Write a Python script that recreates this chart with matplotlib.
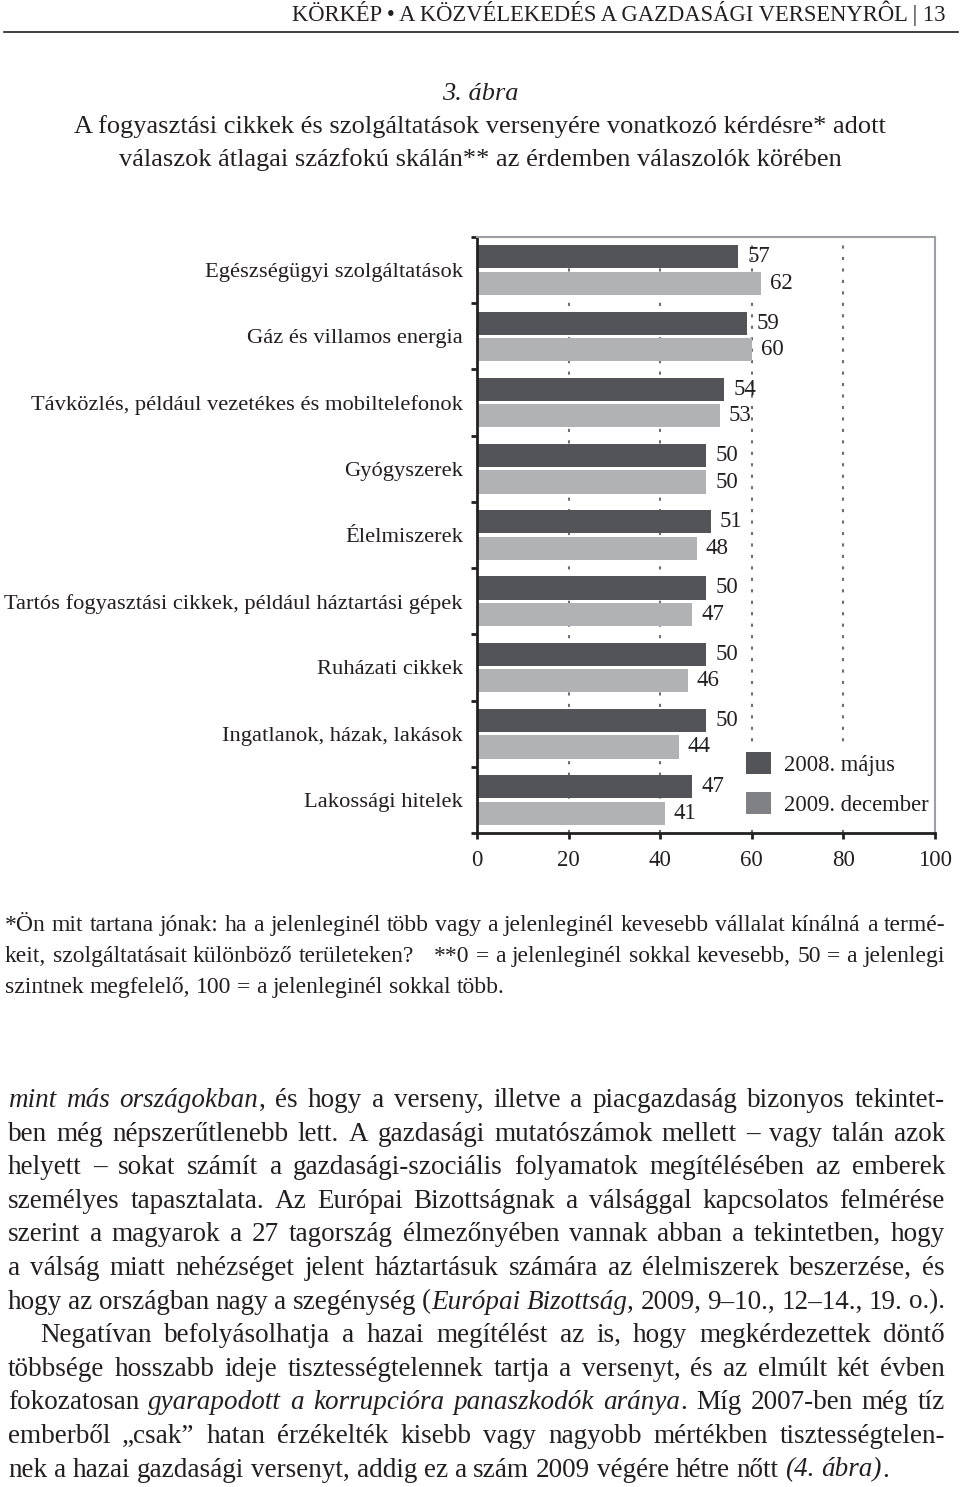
import numpy as np
import matplotlib
matplotlib.use("Agg")
import matplotlib.pyplot as plt
from matplotlib.patches import Patch
from matplotlib.lines import Line2D

# Page style: printed book page, serif type
plt.rcParams.update({
    "font.family": "Liberation Serif",
    "text.color": "#231f20",
    "axes.labelcolor": "#231f20",
    "xtick.color": "#231f20",
    "ytick.color": "#231f20",
})

CATEGORIES = [
    "Egészségügyi szolgáltatások",
    "Gáz és villamos energia",
    "Távközlés, például vezetékes és mobiltelefonok",
    "Gyógyszerek",
    "Élelmiszerek",
    "Tartós fogyasztási cikkek, például háztartási gépek",
    "Ruházati cikkek",
    "Ingatlanok, házak, lakások",
    "Lakossági hitelek",
]
MAY_2008 = [57, 59, 54, 50, 51, 50, 50, 50, 47]
DEC_2009 = [62, 60, 53, 50, 48, 47, 46, 44, 41]
SERIES = ["2008. május", "2009. december"]
X_TICKS = [0, 20, 40, 60, 80, 100]

HEADER = "KÖRKÉP • A KÖZVÉLEKEDÉS A GAZDASÁGI VERSENYRÔL | 13"
TITLE = [
    "3. ábra",
    "A fogyasztási cikkek és szolgáltatások versenyére vonatkozó kérdésre* adott",
    "válaszok átlagai százfokú skálán** az érdemben válaszolók körében",
]
# '_' toggles italic
FOOTNOTE = [
    "*Ön mit tartana jónak: ha a jelenleginél több vagy a jelenleginél kevesebb vállalat kínálná a termé-",
    "keit, szolgáltatásait különböző területeken?   **0 = a jelenleginél sokkal kevesebb, 50 = a jelenlegi",
    "szintnek megfelelő, 100 = a jelenleginél sokkal több.",
]
BODY = [
    "_mint más országokban_, és hogy a verseny, illetve a piacgazdaság bizonyos tekintet-",
    "ben még népszerűtlenebb lett. A gazdasági mutatószámok mellett – vagy talán azok",
    "helyett – sokat számít a gazdasági-szociális folyamatok megítélésében az emberek",
    "személyes tapasztalata. Az Európai Bizottságnak a válsággal kapcsolatos felmérése",
    "szerint a magyarok a 27 tagország élmezőnyében vannak abban a tekintetben, hogy",
    "a válság miatt nehézséget jelent háztartásuk számára az élelmiszerek beszerzése, és",
    "hogy az országban nagy a szegénység (_Európai Bizottság,_ 2009, 9–10., 12–14., 19. o.).",
    "Negatívan befolyásolhatja a hazai megítélést az is, hogy megkérdezettek döntő",
    "többsége hosszabb ideje tisztességtelennek tartja a versenyt, és az elmúlt két évben",
    "fokozatosan _gyarapodott a korrupcióra panaszkodók aránya_. Míg 2007-ben még tíz",
    "emberből „csak” hatan érzékelték kisebb vagy nagyobb mértékben tisztességtelen-",
    "nek a hazai gazdasági versenyt, addig ez a szám 2009 végére hétre nőtt _(4. ábra)_.",
]

DARK = "#535458"
LIGHT = "#b1b2b4"
LEGEND_LIGHT = "#808184"

W, H = 960, 1487
fig = plt.figure(figsize=(W / 100, H / 100), dpi=100)
renderer = fig.canvas.get_renderer()


def parse(line):
    words, frags, buf, ital = [], [], "", False
    for ch in line:
        if ch == "_":
            if buf:
                frags.append((buf, ital))
                buf = ""
            ital = not ital
        elif ch == " ":
            if buf:
                frags.append((buf, ital))
                buf = ""
            words.append(frags)
            frags = []
        else:
            buf += ch
    if buf:
        frags.append((buf, ital))
    words.append(frags)
    return words


def space_width(size):
    a = fig.text(0, 0, "a a", fontsize=size)
    b = fig.text(0, 0, "aa", fontsize=size)
    w = a.get_window_extent(renderer).width - b.get_window_extent(renderer).width
    a.remove(); b.remove()
    return w


def put_line(y_base, line, x0, x1, size, justify=True):
    words = parse(line)
    placed, widths = [], []
    for frags in words:
        arts, total = [], 0
        for s, it in frags:
            t = fig.text(0, 0, s, fontsize=size, va="baseline", ha="left",
                         style="italic" if it else "normal")
            w = t.get_window_extent(renderer).width
            arts.append((t, w))
            total += w
        placed.append(arts)
        widths.append(total)
    n = len(words) - 1
    if justify and n > 0:
        gap = (x1 - x0 - sum(widths)) / n
    else:
        gap = space_width(size)
    x = x0
    for arts, wt in zip(placed, widths):
        xx = x
        for t, w in arts:
            t.set_position((xx / W, 1 - y_base / H))
            xx += w
        x += wt + gap


# ── Header and title ────────────────────────────────────────────────
fig.text(945 / W, 1 - 21 / H, HEADER, ha="right", va="baseline", fontsize=16.3)
fig.add_artist(Line2D([4 / W, 958 / W], [1 - 32 / H, 1 - 32 / H],
                      color="#231f20", lw=1.2))
fig.text(0.5, 1 - 100 / H, TITLE[0], ha="center", va="baseline",
         fontsize=19, style="italic")
fig.text(0.5, 1 - 133 / H, TITLE[1], ha="center", va="baseline", fontsize=19)
fig.text(0.5, 1 - 166 / H, TITLE[2], ha="center", va="baseline", fontsize=19)

# ── Chart ───────────────────────────────────────────────────────────
ax = fig.add_axes([477 / W, 1 - 833 / H, (935 - 477) / W, (833 - 237) / H])
y = np.arange(len(CATEGORIES))
ax.barh(y - 0.2, MAY_2008, height=0.35, color=DARK, zorder=2)
ax.barh(y + 0.2, DEC_2009, height=0.35, color=LIGHT, zorder=2)

for yy, v in zip(y - 0.2, MAY_2008):
    ax.text(v + 2, yy, str(v), va="center", ha="left", fontsize=16.5, zorder=3)
for yy, v in zip(y + 0.2, DEC_2009):
    ax.text(v + 2, yy, str(v), va="center", ha="left", fontsize=16.5, zorder=3)

for gx in X_TICKS[1:-1]:
    ax.axvline(gx, color="#6d6e71", lw=1.5, ls=(0, (1.5, 4)), zorder=1)

ax.set_xlim(0, 100)
ax.set_ylim(8.5, -0.5)
ax.set_xticks(X_TICKS)
ax.set_xticklabels([str(t) for t in X_TICKS], fontsize=16.5)
ax.set_yticks(y)
ax.set_yticklabels(CATEGORIES, fontsize=16.2)
ax.set_yticks(np.arange(-0.5, len(CATEGORIES)), minor=True)
ax.tick_params(axis="y", which="major", length=0, pad=10)
ax.tick_params(axis="y", which="minor", length=4, width=2, color="#231f20")
ax.tick_params(axis="x", length=4, width=2, pad=8, color="#231f20")

for side in ["left", "bottom"]:
    ax.spines[side].set_color("#231f20")
    ax.spines[side].set_linewidth(2)
for side in ["top", "right"]:
    ax.spines[side].set_color("#9d9fa2")
    ax.spines[side].set_linewidth(1.5)

# legend sits on a white box that hides the gridlines but not the frame
handles = [Patch(facecolor=DARK), Patch(facecolor=LEGEND_LIGHT)]
leg = ax.legend(handles, SERIES, loc="upper left",
                bbox_to_anchor=(738 / W, 1 - 744 / H), bbox_transform=fig.transFigure,
                frameon=True, fancybox=False, framealpha=1, facecolor="white",
                edgecolor="none", fontsize=16.3, handlelength=1.1, handleheight=1.1,
                handletextpad=0.55, labelspacing=0.72, borderpad=0.36, borderaxespad=0)
leg.set_zorder(2.3)

# ── Footnote ────────────────────────────────────────────────────────
for i, line in enumerate(FOOTNOTE):
    put_line(931 + 31 * i, line, 5, 945, 17, justify=i < len(FOOTNOTE) - 1)

# ── Body text ───────────────────────────────────────────────────────
for i, line in enumerate(BODY):
    x0 = 40 if i == 7 else 8
    put_line(1107 + 33.6 * i, line, x0, 945, 19.5, justify=i < len(BODY) - 1)

fig.savefig("out.png", dpi=100)
